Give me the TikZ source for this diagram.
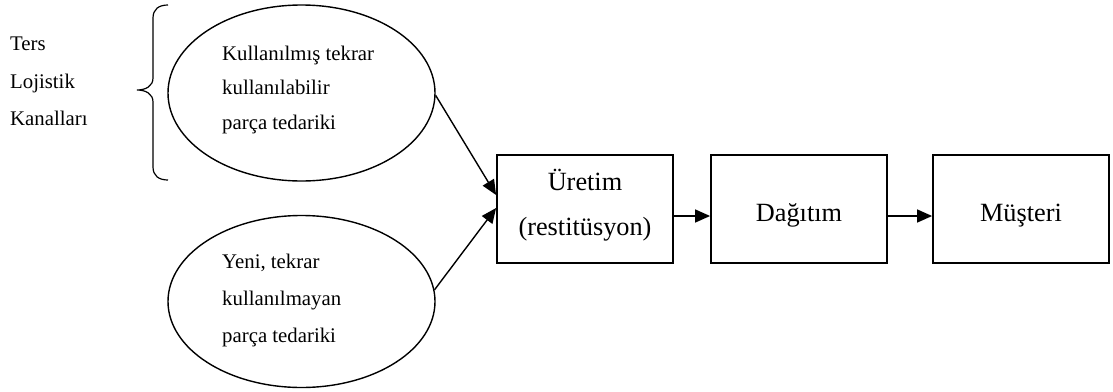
\documentclass[tikz,border=0pt]{standalone}
\usepackage{fontspec}
\setmainfont{Liberation Serif}
\usetikzlibrary{shapes.geometric,arrows.meta,calc}
\begin{document}
\begin{tikzpicture}[x=1pt,y=-1pt,
  oval/.style={ellipse,draw,line width=1.4pt,inner sep=0pt,minimum width=267pt},
  stage/.style={rectangle,draw,line width=1.8pt,minimum width=176pt,minimum height=108pt,inner sep=0pt},
  flow/.style={line width=1.4pt,-{Triangle[length=15pt,width=13pt]}},
  bracket/.style={line width=1.2pt},
  smalltxt/.style={font=\fontsize{20.8}{25}\selectfont,inner sep=0pt,anchor=base west},
  bigtxt/.style={font=\fontsize{26.3}{32}\selectfont,inner sep=0pt,anchor=base}]
\useasboundingbox (0,0) rectangle (1113,391);

% label of the grouped channels
\node[smalltxt] (l1) at (10,50) {Ters};
\node[smalltxt] (l2) at (10,88) {Lojistik};
\node[smalltxt] (l3) at (10,125) {Kanalları};

% curly bracket
\draw[bracket] (168,5) .. controls (159,5) and (153,9) .. (153,18) -- (153,78)
  .. controls (153,86) and (146,90) .. (137,90)
  .. controls (146,90) and (153,94) .. (153,102) -- (153,167)
  .. controls (153,176) and (159,180) .. (168,180);

% supply sources
\node[oval,minimum height=176pt] (e1) at (301.5,93) {};
\node[oval,minimum height=172pt] (e2) at (301.5,301.5) {};
\node[smalltxt] (a1) at (222,60) {Kullanılmış tekrar};
\node[smalltxt] (a2) at (222,94) {kullanılabilir};
\node[smalltxt] (a3) at (222,129) {parça tedariki};
\node[smalltxt] (b1) at (222,268) {Yeni, tekrar};
\node[smalltxt] (b2) at (222,305) {kullanılmayan};
\node[smalltxt] (b3) at (222,342) {parça tedariki};

% process stages
\node[stage] (u) at (585,209) {};
\node[stage] (d) at (799,209) {};
\node[stage] (m) at (1021,209) {};
\node[bigtxt] (u1) at ($(u.center)+(0,-19)$) {Üretim};
\node[bigtxt] (u2) at ($(u.center)+(0,26)$) {(restitüsyon)};
\node[bigtxt] (d1) at ($(d.center)+(0,12)$) {Dağıtım};
\node[bigtxt] (m1) at ($(m.center)+(0,12)$) {Müşteri};

% flows
\draw[flow] (e1.-1) -- ($(u.west)+(0,-14)$);
\draw[flow] (e2.5) -- ($(u.west)+(0,-1)$);
\draw[flow] ($(u.east)+(0,7)$) -- ($(d.west)+(0,7)$);
\draw[flow] ($(d.east)+(0,7)$) -- ($(m.west)+(0,7)$);
\end{tikzpicture}
\end{document}
